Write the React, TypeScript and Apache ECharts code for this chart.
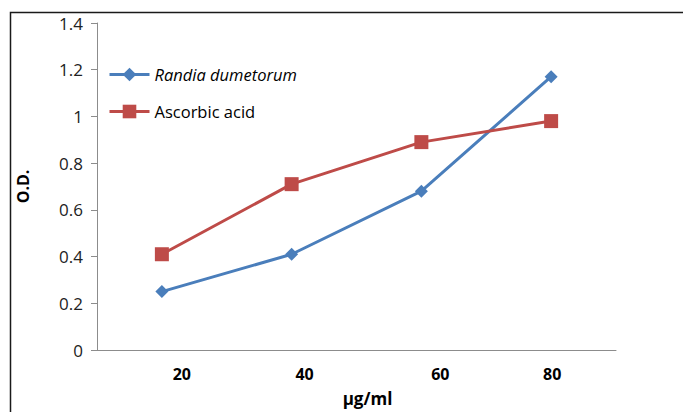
import React, { useEffect, useRef } from "react";
import * as echarts from "echarts";

const categories = ["20", "40", "60", "80"];
const labelShift = [40, 26, 38, 2];
const randiaValues = [0.25, 0.41, 0.68, 1.17];
const ascorbicValues = [0.41, 0.71, 0.89, 0.98];
const seriesNames = ["Randia dumetorum", "Ascorbic acid"];

export default function App() {
  const ref = useRef<HTMLDivElement>(null);
  useEffect(() => {
    document.body.style.margin = "0";
    const chart = echarts.init(ref.current!, null, { renderer: "svg" });
    const font = "'Open Sans', sans-serif";
    const rich: any = {};
    labelShift.forEach((p, i) => {
      rich["c" + i] = { padding: [0, 0, 0, p], fontWeight: "bold", fontSize: 16, color: "#000", fontFamily: font };
    });
    chart.setOption({
      animation: false,
      backgroundColor: "#fff",
      graphic: [
        {
          type: "rect",
          shape: { x: 10.5, y: 12.5, width: 720, height: 440 },
          style: { fill: "none", stroke: "#1a1a1a", lineWidth: 1.5 },
          silent: true,
        },
      ],
      grid: { left: 97, top: 23, right: 67, bottom: 60 },
      legend: {
        orient: "vertical",
        left: 108,
        top: 66,
        padding: 0,
        itemWidth: 40,
        itemHeight: 17,
        itemGap: 20,
        data: seriesNames,
        lineStyle: { width: 3 },
        formatter: (n: string) => (n === seriesNames[0] ? "{i|" + n + "}" : "{n|" + n + "}"),
        textStyle: {
          fontFamily: font,
          fontSize: 16.5,
          color: "#000",
          rich: {
            i: { fontStyle: "italic", fontSize: 16.5, fontFamily: font, color: "#000", lineHeight: 17 },
            n: { fontSize: 16.5, fontFamily: font, color: "#000", lineHeight: 17 },
          },
        },
      },
      xAxis: {
        type: "category",
        data: categories,
        boundaryGap: true,
        name: "µg/ml",
        nameLocation: "middle",
        nameGap: 40,
        nameTextStyle: { fontFamily: font, fontSize: 17, fontWeight: "bold", color: "#000", padding: [0, 0, 0, 22] },
        axisLine: { lineStyle: { color: "#8c8c8c", width: 1 } },
        axisTick: { show: false },
        axisLabel: {
          margin: 16,
          formatter: (v: string, i: number) => "{c" + i + "|" + v + "}",
          rich,
        },
      },
      yAxis: {
        type: "value",
        min: 0,
        max: 1.4,
        interval: 0.2,
        name: "O.D.",
        nameLocation: "middle",
        nameGap: 66,
        nameRotate: 90,
        nameTextStyle: { fontFamily: font, fontSize: 16, fontWeight: "bold", color: "#000" },
        axisLine: { show: true, lineStyle: { color: "#8c8c8c", width: 1 } },
        axisTick: { show: true, inside: false, length: 6, lineStyle: { color: "#8c8c8c" } },
        splitLine: { show: false },
        axisLabel: {
          margin: 14,
          fontFamily: font,
          fontSize: 17,
          color: "#222",
          formatter: (v: number) => String(Math.round(v * 10) / 10),
        },
      },
      series: [
        {
          name: seriesNames[0],
          type: "line",
          data: randiaValues,
          symbol: "diamond",
          symbolSize: 13,
          lineStyle: { color: "#4a7ebb", width: 3 },
          itemStyle: { color: "#4a7ebb" },
        },
        {
          name: seriesNames[1],
          type: "line",
          data: ascorbicValues,
          symbol: "rect",
          symbolSize: 14,
          lineStyle: { color: "#be4b48", width: 3 },
          itemStyle: { color: "#be4b48" },
        },
      ],
    });
    return () => chart.dispose();
  }, []);
  return <div ref={ref} style={{ position: "absolute", left: 0, top: 0, width: 683, height: 412 }} />;
}
